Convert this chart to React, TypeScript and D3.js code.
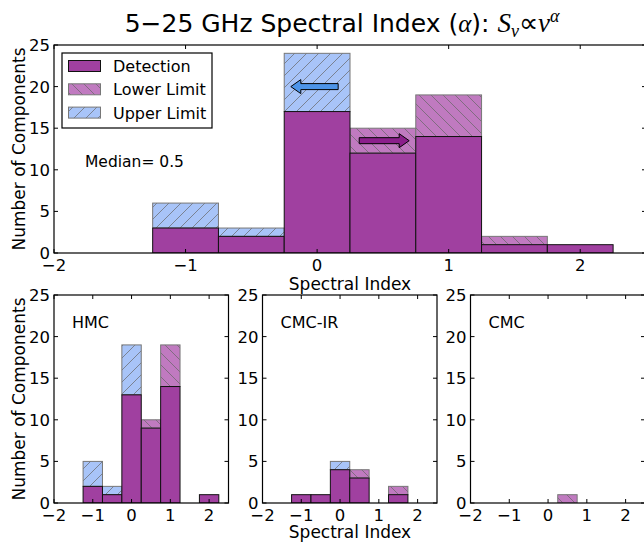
import React from "react";
import * as d3 from "d3";

// bin centres (width 0.5)
const binCenters = [-1, -0.5, 0, 0.5, 1, 1.5, 2];
const xTicks = [-2, -1, 0, 1, 2];
const yTicks = [0, 5, 10, 15, 20, 25];

const allDet = [3, 2, 17, 12, 14, 1, 1];
const allUpper = [3, 1, 7, 0, 0, 0, 0];
const allLower = [0, 0, 0, 3, 5, 1, 0];

const hmcDet = [2, 1, 13, 9, 14, 0, 1];
const hmcUpper = [3, 1, 6, 0, 0, 0, 0];
const hmcLower = [0, 0, 0, 1, 5, 0, 0];

const cmcirDet = [1, 1, 4, 3, 0, 1, 0];
const cmcirUpper = [0, 0, 1, 0, 0, 0, 0];
const cmcirLower = [0, 0, 0, 1, 0, 1, 0];

const cmcDet = [0, 0, 0, 0, 0, 0, 0];
const cmcUpper = [0, 0, 0, 0, 0, 0, 0];
const cmcLower = [0, 0, 0, 1, 0, 0, 0];

const legendLabels = ["Detection", "Lower Limit", "Upper Limit"];

const DET = "rgb(160,64,160)";
const LOWER = "rgb(192,122,192)";
const UPPER = "rgb(168,196,248)";
const FONT = "DejaVu Sans, sans-serif";
const SERIF = "Liberation Serif, serif";

type PanelProps = {
  x0: number;
  x1: number;
  y0: number;
  y1: number;
  det: number[];
  upper: number[];
  lower: number[];
  clipId: string;
};

const Panel = ({ x0, x1, y0, y1, det, upper, lower, clipId }: PanelProps) => {
  const x = d3.scaleLinear().domain([-2, 2.5]).range([x0, x1]);
  const y = d3.scaleLinear().domain([0, 25]).range([y1, y0]);
  const hw = 0.25;
  const tl = 4;
  return (
    <g>
      <defs>
        <clipPath id={clipId}>
          <rect x={x0} y={y0} width={x1 - x0} height={y1 - y0} />
        </clipPath>
      </defs>
      <g clipPath={`url(#${clipId})`}>
        {binCenters.map((c, i) =>
          upper[i] > 0 ? (
            <g key={"u" + i}>
              <rect x={x(c - hw)} y={y(det[i] + upper[i])} width={x(c + hw) - x(c - hw)}
                height={y(det[i]) - y(det[i] + upper[i])} fill={UPPER} />
              <rect x={x(c - hw)} y={y(det[i] + upper[i])} width={x(c + hw) - x(c - hw)}
                height={y(det[i]) - y(det[i] + upper[i])} fill="url(#hatchUp)" stroke="#777" strokeWidth={1} />
            </g>
          ) : null
        )}
        {binCenters.map((c, i) =>
          lower[i] > 0 ? (
            <g key={"l" + i}>
              <rect x={x(c - hw)} y={y(det[i] + lower[i])} width={x(c + hw) - x(c - hw)}
                height={y(det[i]) - y(det[i] + lower[i])} fill={LOWER} />
              <rect x={x(c - hw)} y={y(det[i] + lower[i])} width={x(c + hw) - x(c - hw)}
                height={y(det[i]) - y(det[i] + lower[i])} fill="url(#hatchDown)" stroke="#777" strokeWidth={1} />
            </g>
          ) : null
        )}
        {binCenters.map((c, i) =>
          det[i] > 0 ? (
            <rect key={"d" + i} x={x(c - hw)} y={y(det[i])} width={x(c + hw) - x(c - hw)}
              height={y(0) - y(det[i])} fill={DET} stroke="#111" strokeWidth={1} />
          ) : null
        )}
      </g>
      {/* ticks, inside, on all four sides */}
      {xTicks.map((t) => (
        <g key={"xt" + t}>
          <line x1={x(t)} x2={x(t)} y1={y1} y2={y1 - tl} stroke="#000" />
          <line x1={x(t)} x2={x(t)} y1={y0} y2={y0 + tl} stroke="#000" />
          <text x={x(t)} y={y1 + 18} textAnchor="middle" fontSize={16.5} fontFamily={FONT}>
            {t < 0 ? "\u2212" + Math.abs(t) : t}
          </text>
        </g>
      ))}
      {yTicks.map((t) => (
        <g key={"yt" + t}>
          <line x1={x0} x2={x0 + tl} y1={y(t)} y2={y(t)} stroke="#000" />
          <line x1={x1} x2={x1 - tl} y1={y(t)} y2={y(t)} stroke="#000" />
          <text x={x0 - 4} y={y(t) + 6} textAnchor="end" fontSize={16.5} fontFamily={FONT}>
            {t}
          </text>
        </g>
      ))}
      <rect x={x0} y={y0} width={x1 - x0} height={y1 - y0} fill="none" stroke="#000" strokeWidth={1.2} />
    </g>
  );
};

// arrow polygon in pixel space from tail xa to head xb at height yc
const arrowPath = (xa: number, xb: number, yc: number) => {
  const dir = xb > xa ? 1 : -1;
  const headLen = 10;
  const shaft = 3;
  const head = 7;
  const xn = xb - dir * headLen;
  return `M${xa},${yc - shaft}L${xn},${yc - shaft}L${xn},${yc - head}L${xb},${yc}L${xn},${yc + head}L${xn},${yc + shaft}L${xa},${yc + shaft}Z`;
};

export default function App() {
  const top = { x0: 54, x1: 646, y0: 45, y1: 253 };
  const xTop = d3.scaleLinear().domain([-2, 2.5]).range([top.x0, top.x1]);
  const yTop = d3.scaleLinear().domain([0, 25]).range([top.y1, top.y0]);
  const bottoms = [
    { x0: 54, x1: 228.5, label: "HMC", det: hmcDet, upper: hmcUpper, lower: hmcLower },
    { x0: 262.5, x1: 437, label: "CMC-IR", det: cmcirDet, upper: cmcirUpper, lower: cmcirLower },
    { x0: 470.5, x1: 645, label: "CMC", det: cmcDet, upper: cmcUpper, lower: cmcLower },
  ];
  const by0 = 295;
  const by1 = 503;
  const legendFills = [DET, LOWER, UPPER];
  const legendHatch = [null, "url(#hatchDown)", "url(#hatchUp)"];

  return (
    <svg width={644} height={546} style={{ position: "absolute", left: 0, top: 0, background: "#fff" }}>
      <defs>
        <pattern id="hatchUp" patternUnits="userSpaceOnUse" width={12} height={12}>
          <path d="M-3,3L3,-3M0,12L12,0M9,15L15,9" stroke="#666" strokeWidth={0.7} />
        </pattern>
        <pattern id="hatchDown" patternUnits="userSpaceOnUse" width={12} height={12}>
          <path d="M-3,9L3,15M0,0L12,12M9,-3L15,3" stroke="#666" strokeWidth={0.7} />
        </pattern>
      </defs>

      <text x={342} y={32} textAnchor="middle" fontSize={25} fontFamily={FONT}>
        5{"\u2212"}25 GHz Spectral Index (
        <tspan fontFamily={SERIF} fontStyle="italic">α</tspan>):{" "}
        <tspan fontFamily={SERIF} fontStyle="italic" fontSize={27}>S</tspan>
        <tspan fontFamily={SERIF} fontStyle="italic" fontSize={18} dy={5}>ν</tspan>
        <tspan fontFamily={SERIF} fontSize={27} dy={-5}>∝</tspan>
        <tspan fontFamily={SERIF} fontStyle="italic" fontSize={27}>ν</tspan>
        <tspan fontFamily={SERIF} fontStyle="italic" fontSize={18} dy={-10}>α</tspan>
      </text>

      <Panel {...top} det={allDet} upper={allUpper} lower={allLower} clipId="clipTop" />

      {/* arrows */}
      <path d={arrowPath(xTop(0.16), xTop(-0.2), yTop(20))} fill="#4d94e8" stroke="#000" strokeWidth={1} />
      <path d={arrowPath(xTop(0.32), xTop(0.7), yTop(13.5))} fill="#8b1f8b" stroke="#000" strokeWidth={1} />

      {/* legend */}
      <rect x={62} y={53} width={150} height={75} fill="#fff" stroke="#000" strokeWidth={1.2} />
      {legendLabels.map((l, i) => (
        <g key={l}>
          <rect x={68.5} y={60.5 + i * 23.3} width={32} height={11} fill={legendFills[i]} />
          {legendHatch[i] ? (
            <rect x={68.5} y={60.5 + i * 23.3} width={32} height={11} fill={legendHatch[i] as string} stroke="#777" />
          ) : (
            <rect x={68.5} y={60.5 + i * 23.3} width={32} height={11} fill="none" stroke="#111" />
          )}
          <text x={113} y={72 + i * 23.3} fontSize={16} fontFamily={FONT}>{l}</text>
        </g>
      ))}

      <text x={85} y={167} fontSize={15.5} fontFamily={FONT}>Median= 0.5</text>

      <text x={350} y={290} textAnchor="middle" fontSize={17} fontFamily={FONT}>Spectral Index</text>
      <text transform={`translate(25,${(top.y0 + top.y1) / 2}) rotate(-90)`} textAnchor="middle" fontSize={17} fontFamily={FONT}>
        Number of Components
      </text>

      {bottoms.map((b, k) => (
        <g key={b.label}>
          <Panel x0={b.x0} x1={b.x1} y0={by0} y1={by1} det={b.det} upper={b.upper} lower={b.lower} clipId={"clipB" + k} />
          <text x={b.x0 + 18} y={328} fontSize={16} fontFamily={FONT}>{b.label}</text>
        </g>
      ))}
      <text x={350} y={538} textAnchor="middle" fontSize={17} fontFamily={FONT}>Spectral Index</text>
      <text transform={`translate(25,${(by0 + by1) / 2}) rotate(-90)`} textAnchor="middle" fontSize={17} fontFamily={FONT}>
        Number of Components
      </text>
    </svg>
  );
}
